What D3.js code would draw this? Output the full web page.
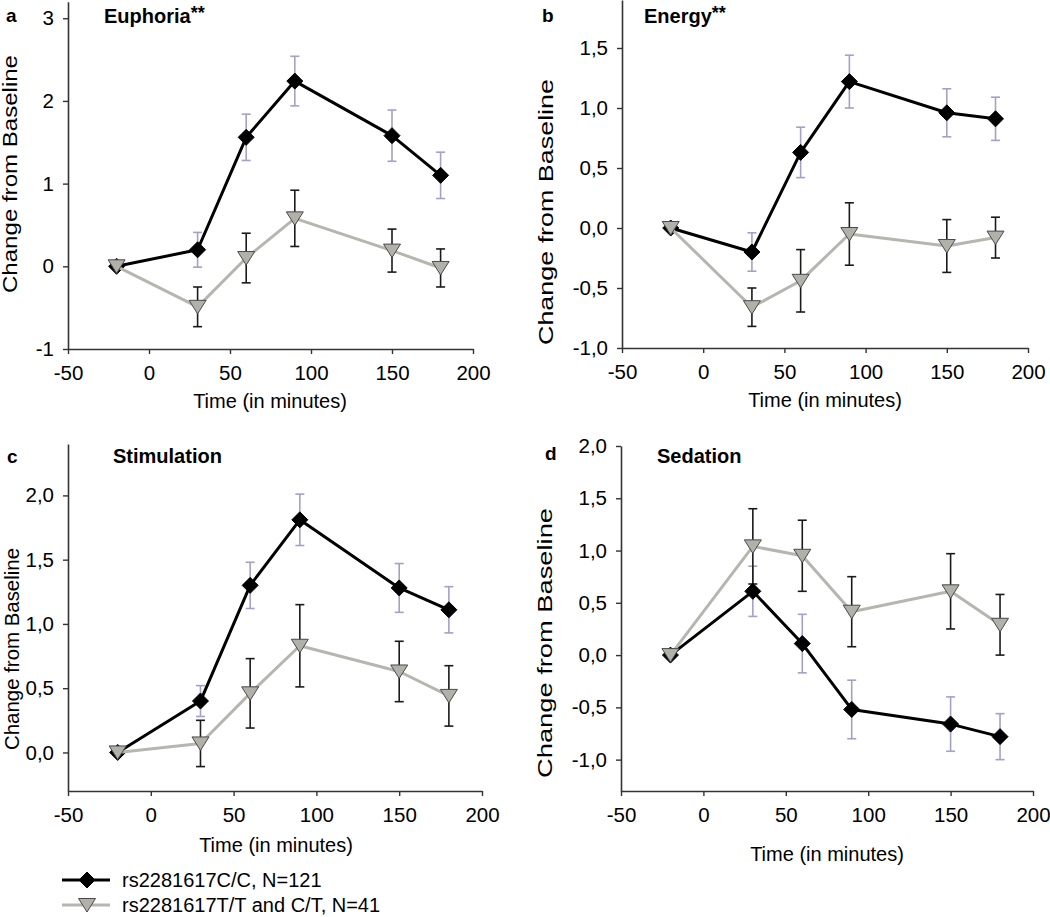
<!DOCTYPE html>
<html><head><meta charset="utf-8">
<script src="https://cdn.jsdelivr.net/npm/d3@7"></script>
<style>
html,body{margin:0;padding:0;background:#fff;}
svg{display:block;font-family:"Liberation Sans",Arial,sans-serif;}
</style></head>
<body><svg id="chart" width="1050" height="917"></svg>
<script>
// ---------- DATA ----------
const times = [-20, 30, 60, 90, 150, 180];
const xTickValues = [-50, 0, 50, 100, 150, 200];
const panelLetters = ["a", "b", "c", "d"];
const panelTitles = ["Euphoria", "Energy", "Stimulation", "Sedation"];
const titleStars = ["**", "**", "", ""];
const seriesNames = ["rs2281617C/C, N=121", "rs2281617T/T and C/T, N=41"];
const xAxisTitle = "Time (in minutes)";
const yAxisTitle = "Change from Baseline";

const euphoriaCC    = [0, 0.20, 1.56, 2.24, 1.58, 1.10];
const euphoriaCCErr = [0, 0.21, 0.28, 0.30, 0.31, 0.28];
const euphoriaTT    = [0, -0.49, 0.10, 0.58, 0.19, -0.02];
const euphoriaTTErr = [0, 0.24, 0.30, 0.34, 0.26, 0.23];

const energyCC    = [0, -0.20, 0.63, 1.22, 0.96, 0.91];
const energyCCErr = [0, 0.16, 0.21, 0.22, 0.20, 0.18];
const energyTT    = [0, -0.66, -0.44, -0.05, -0.15, -0.08];
const energyTTErr = [0, 0.16, 0.26, 0.26, 0.22, 0.17];

const stimulationCC    = [0, 0.40, 1.30, 1.81, 1.28, 1.11];
const stimulationCCErr = [0, 0.12, 0.18, 0.20, 0.19, 0.18];
const stimulationTT    = [0, 0.07, 0.46, 0.83, 0.63, 0.44];
const stimulationTTErr = [0, 0.18, 0.27, 0.32, 0.235, 0.235];

const sedationCC    = [0, 0.61, 0.11, -0.52, -0.66, -0.78];
const sedationCCErr = [0, 0.24, 0.28, 0.28, 0.26, 0.22];
const sedationTT    = [0, 1.04, 0.95, 0.415, 0.61, 0.29];
const sedationTTErr = [0, 0.36, 0.34, 0.335, 0.36, 0.29];

const yTicksA = [-1, 0, 1, 2, 3];
const yTicksB = [-1, -0.5, 0, 0.5, 1, 1.5];
const yTicksC = [0, 0.5, 1, 1.5, 2];
const yTicksD = [-1, -0.5, 0, 0.5, 1, 1.5, 2];

// ---------- LAYOUT ----------
const commaFmt = d => d.toFixed(1).replace(".", ",");
const intFmt = d => String(d);

const panels = [
  {cc: euphoriaCC, ccErr: euphoriaCCErr, tt: euphoriaTT, ttErr: euphoriaTTErr,
   xr: [68, 473], yd: [-1, 3.2], yr: [349, 1.7], ticks: yTicksA, fmt: intFmt,
   letter: [6, 22], title: [104, 23], ylab: [10, 174, 238], xlab: [270, 408]},
  {cc: energyCC, ccErr: energyCCErr, tt: energyTT, ttErr: energyTTErr,
   xr: [622, 1028], yd: [-1, 1.9], yr: [348, 0], ticks: yTicksB, fmt: commaFmt,
   letter: [542, 22], title: [644, 23], ylab: [546, 212, 266], xlab: [825, 407]},
  {cc: stimulationCC, ccErr: stimulationCCErr, tt: stimulationTT, ttErr: stimulationTTErr,
   xr: [68, 482], yd: [-0.3, 2.4], yr: [791, 444], ticks: yTicksC, fmt: commaFmt,
   letter: [7, 463], title: [113, 463], ylab: [12, 649, 202], xlab: [276, 852]},
  {cc: sedationCC, ccErr: sedationCCErr, tt: sedationTT, ttErr: sedationTTErr,
   xr: [621, 1033], yd: [-1.3, 2.0], yr: [791, 446], ticks: yTicksD, fmt: commaFmt,
   letter: [545, 460], title: [657, 463], ylab: [545, 643, 270], xlab: [827, 861]}
];

const CC_COLOR = "#000", TT_COLOR = "#b6b6ae", TT_FILL = "#b1b1a9";
const CC_ERR = "#a3a1c6", TT_ERR = "#1a1a1a", AXIS = "#333";
const FONT = 20.5;

const diamond = "M0,-8L8,0L0,8L-8,0Z";
const triDown = "M-8.5,-6.5L8.5,-6.5L0,7Z";

const svg = d3.select("#chart");

panels.forEach((p, i) => {
  const x = d3.scaleLinear().domain([-50, 200]).range(p.xr);
  const y = d3.scaleLinear().domain(p.yd).range(p.yr);
  const g = svg.append("g");

  // axes
  const yAxis = d3.axisLeft(y).tickValues(p.ticks).tickFormat(p.fmt)
    .tickSize(5).tickSizeOuter(0).tickPadding(9);
  const gy = g.append("g").attr("transform", `translate(${p.xr[0]},0)`).call(yAxis);
  const xAxis = d3.axisBottom(x).tickValues(xTickValues).tickFormat(intFmt)
    .tickSize(5).tickSizeOuter(0).tickPadding(11);
  const gx = g.append("g").attr("transform", `translate(0,${p.yr[0]})`).call(xAxis);
  [gx, gy].forEach(a => {
    a.select(".domain").attr("stroke", AXIS).attr("stroke-width", 1.6);
    a.selectAll(".tick line").attr("stroke", AXIS).attr("stroke-width", 1.4);
    a.selectAll(".tick text").attr("fill", "#000").attr("font-size", FONT)
      .attr("font-family", "Liberation Sans, Arial, sans-serif");
  });

  const series = [
    {v: p.cc, e: p.ccErr, color: CC_COLOR, err: CC_ERR, shape: diamond, fill: "#000", stroke: "#000"},
    {v: p.tt, e: p.ttErr, color: TT_COLOR, err: TT_ERR, shape: triDown, fill: TT_FILL, stroke: "#4a4a4a"}
  ];

  // error bars
  series.forEach(s => {
    times.forEach((t, k) => {
      if (!s.e[k]) return;
      const cx = x(t), y1 = y(s.v[k] + s.e[k]), y2 = y(s.v[k] - s.e[k]);
      const eg = g.append("g").attr("stroke", s.err).attr("stroke-width", 1.6).attr("fill", "none");
      eg.append("line").attr("x1", cx).attr("x2", cx).attr("y1", y1).attr("y2", y2);
      eg.append("line").attr("x1", cx - 4.5).attr("x2", cx + 4.5).attr("y1", y1).attr("y2", y1);
      eg.append("line").attr("x1", cx - 4.5).attr("x2", cx + 4.5).attr("y1", y2).attr("y2", y2);
    });
  });

  // lines + markers
  series.forEach(s => {
    const pts = times.map((t, k) => [x(t), y(s.v[k])]);
    g.append("path").attr("d", d3.line()(pts)).attr("fill", "none")
      .attr("stroke", s.color).attr("stroke-width", 3).attr("stroke-linejoin", "round");
    g.selectAll(null).data(pts).enter().append("path")
      .attr("d", s.shape).attr("transform", d => `translate(${d[0]},${d[1]})`)
      .attr("fill", s.fill).attr("stroke", s.stroke).attr("stroke-width", 1);
  });

  // letter
  g.append("text").attr("x", p.letter[0]).attr("y", p.letter[1]).attr("font-size", 19)
    .attr("font-weight", "bold").text(panelLetters[i]);
  // title
  const tt = g.append("text").attr("x", p.title[0]).attr("y", p.title[1])
    .attr("font-size", 20).attr("font-weight", "bold").text(panelTitles[i]);
  if (titleStars[i]) tt.append("tspan").attr("dy", -4).attr("font-size", 18).text(titleStars[i]);
  // y label
  g.append("text").attr("transform", `translate(${p.ylab[0]},${p.ylab[1]}) rotate(-90)`)
    .attr("text-anchor", "middle").attr("dy", "0.35em").attr("font-size", 19.5)
    .attr("textLength", p.ylab[2]).attr("lengthAdjust", "spacingAndGlyphs").text(yAxisTitle);
  // x label
  g.append("text").attr("x", p.xlab[0]).attr("y", p.xlab[1]).attr("text-anchor", "middle")
    .attr("font-size", 20).text(xAxisTitle);
});

// legend
const legendRows = [
  {name: seriesNames[0], color: CC_COLOR, shape: diamond, fill: "#000", stroke: "#000", y: 880},
  {name: seriesNames[1], color: TT_COLOR, shape: triDown, fill: TT_FILL, stroke: "#4a4a4a", y: 905}
];
legendRows.forEach(r => {
  svg.append("line").attr("x1", 62).attr("x2", 110).attr("y1", r.y).attr("y2", r.y)
    .attr("stroke", r.color).attr("stroke-width", 3);
  svg.append("path").attr("d", r.shape).attr("transform", `translate(87,${r.y})`)
    .attr("fill", r.fill).attr("stroke", r.stroke).attr("stroke-width", 1);
  svg.append("text").attr("x", 122).attr("y", r.y).attr("dy", "0.35em")
    .attr("font-size", 20).text(r.name);
});
</script></body></html>
